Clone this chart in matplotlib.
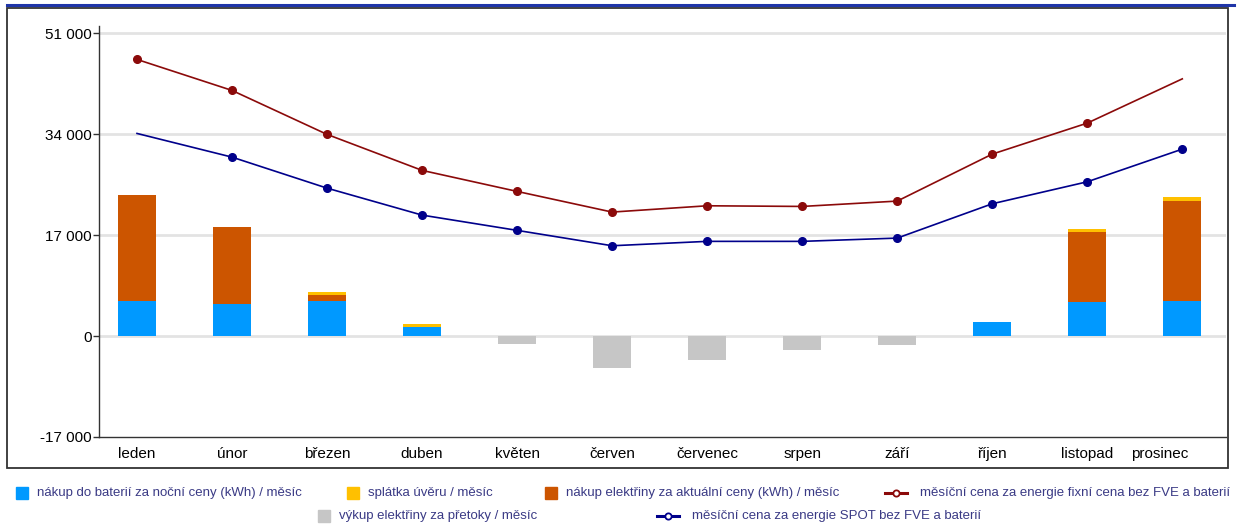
import matplotlib
matplotlib.use('Agg')
import matplotlib.pyplot as plt
import matplotlib.transforms as mtransforms
from matplotlib.patches import Rectangle
from matplotlib.lines import Line2D
import numpy as np

plt.rcParams['font.family'] = ['Liberation Sans', 'DejaVu Sans']

months = ['leden', 'únor', 'březen', 'duben', 'květen', 'červen',
          'červenec', 'srpen', 'září', 'říjen', 'listopad', 'prosinec']
night_battery = [5890, 5440, 5890, 1510, 0, 0, 0, 0, 0, 2360, 5780, 5890]
current_price = [17840, 12910, 1010, 0, 0, 0, 0, 0, 0, 0, 11720, 16890]
loan = [0, 0, 500, 560, 0, 0, 0, 0, 0, 0, 500, 670]
export_sale = [0, 0, 0, 0, -1300, -5330, -3980, -2300, -1460, 0, 0, 0]
fixed_cost = [46570, 41350, 33950, 27890, 24350, 20870, 21930, 21820, 22720, 30630, 35850, 43300]
spot_cost = [34110, 30120, 24900, 20360, 17790, 15200, 15940, 15940, 16490, 22270, 25970, 31470]
y_ticks = [-17000, 0, 17000, 34000, 51000]

c_night = '#0099ff'
c_loan = '#ffc000'
c_current = '#cc5500'
c_export = '#c6c6c6'
c_fixed = '#8b0a0a'
c_spot = '#00008b'
c_legend = '#3a3a85'

W, H = 1237, 527
fig = plt.figure(figsize=(W / 100, H / 100), dpi=100)


def fx(px):
    return px / W


def fy(py):
    return 1 - py / H


ax = fig.add_axes([fx(99), fy(437), fx(1226) - fx(99), fy(26) - fy(437)])

x = np.arange(len(months))
w = 0.4
night = np.array(night_battery)
cur = np.array(current_price)
ax.bar(x, night, w, color=c_night, zorder=2)
ax.bar(x, cur, w, bottom=night, color=c_current, zorder=2)
ax.bar(x, loan, w, bottom=night + cur, color=c_loan, zorder=2)
ax.bar(x, export_sale, w, color=c_export, zorder=2)

ax.plot(x, fixed_cost, color=c_fixed, lw=1.2, marker='o', ms=5.5,
        markevery=list(range(0, 11)), zorder=3)
ax.plot(x, spot_cost, color=c_spot, lw=1.2, marker='o', ms=5.5,
        markevery=list(range(1, 12)), zorder=3)

ax.set_xlim(-0.4, 11.46)
ax.set_ylim(-17000, 52200)
ax.set_yticks(y_ticks)
ax.set_yticklabels([f'{v:,}'.replace(',', ' ') for v in y_ticks], fontsize=11)
ax.set_xticks(x)
ax.set_xticklabels(months, fontsize=11)
ax.tick_params(axis='x', length=0, pad=7)
ax.tick_params(axis='y', length=4, width=1, pad=1, color='#333333')
# last month label sits a bit left
lbl = ax.get_xticklabels()[-1]
lbl.set_transform(lbl.get_transform() + mtransforms.ScaledTranslation(-0.23, 0, fig.dpi_scale_trans))

for v in y_ticks[1:]:
    ax.axhline(v, color='#e3e3e3', lw=2, zorder=1)
for s in ['top', 'right']:
    ax.spines[s].set_visible(False)
for s in ['left', 'bottom']:
    ax.spines[s].set_color('#333333')
    ax.spines[s].set_linewidth(1)

# outer frame and header rule
fig.patches.append(Rectangle((fx(7), fy(468)), fx(1228) - fx(7), fy(8) - fy(468),
                             transform=fig.transFigure, fill=False,
                             edgecolor='#333333', lw=1.3))
fig.lines.append(Line2D([fx(7), fx(1234)], [fy(4.5), fy(4.5)],
                        transform=fig.transFigure, color='#1f35a8', lw=2.2))


def legend_box(px, py, color, label):
    fig.patches.append(Rectangle((fx(px), fy(py + 6)), fx(12), 12 / H,
                                 transform=fig.transFigure, color=color))
    fig.text(fx(px + 21), fy(py), label, color=c_legend, fontsize=9.5,
             va='center', ha='left')


def legend_line(px, py, color, label):
    fig.lines.append(Line2D([fx(px), fx(px + 22)], [fy(py), fy(py)],
                            transform=fig.transFigure, color=color, lw=2.2))
    fig.lines.append(Line2D([fx(px + 11)], [fy(py)], transform=fig.transFigure,
                            color=color, marker='o', ms=4.5, mfc='white', mew=1.3))
    fig.text(fx(px + 35), fy(py), label, color=c_legend, fontsize=9.5,
             va='center', ha='left')


legend_box(16, 493, c_night, 'nákup do baterií za noční ceny (kWh) / měsíc')
legend_box(347, 493, c_loan, 'splátka úvěru / měsíc')
legend_box(545, 493, c_current, 'nákup elektřiny za aktuální ceny (kWh) / měsíc')
legend_line(885, 493, c_fixed, 'měsíční cena za energie fixní cena bez FVE a baterií')
legend_box(318, 516, c_export, 'výkup elektřiny za přetoky / měsíc')
legend_line(657, 516, c_spot, 'měsíční cena za energie SPOT bez FVE a baterií')

fig.savefig('out.png', dpi=100)
